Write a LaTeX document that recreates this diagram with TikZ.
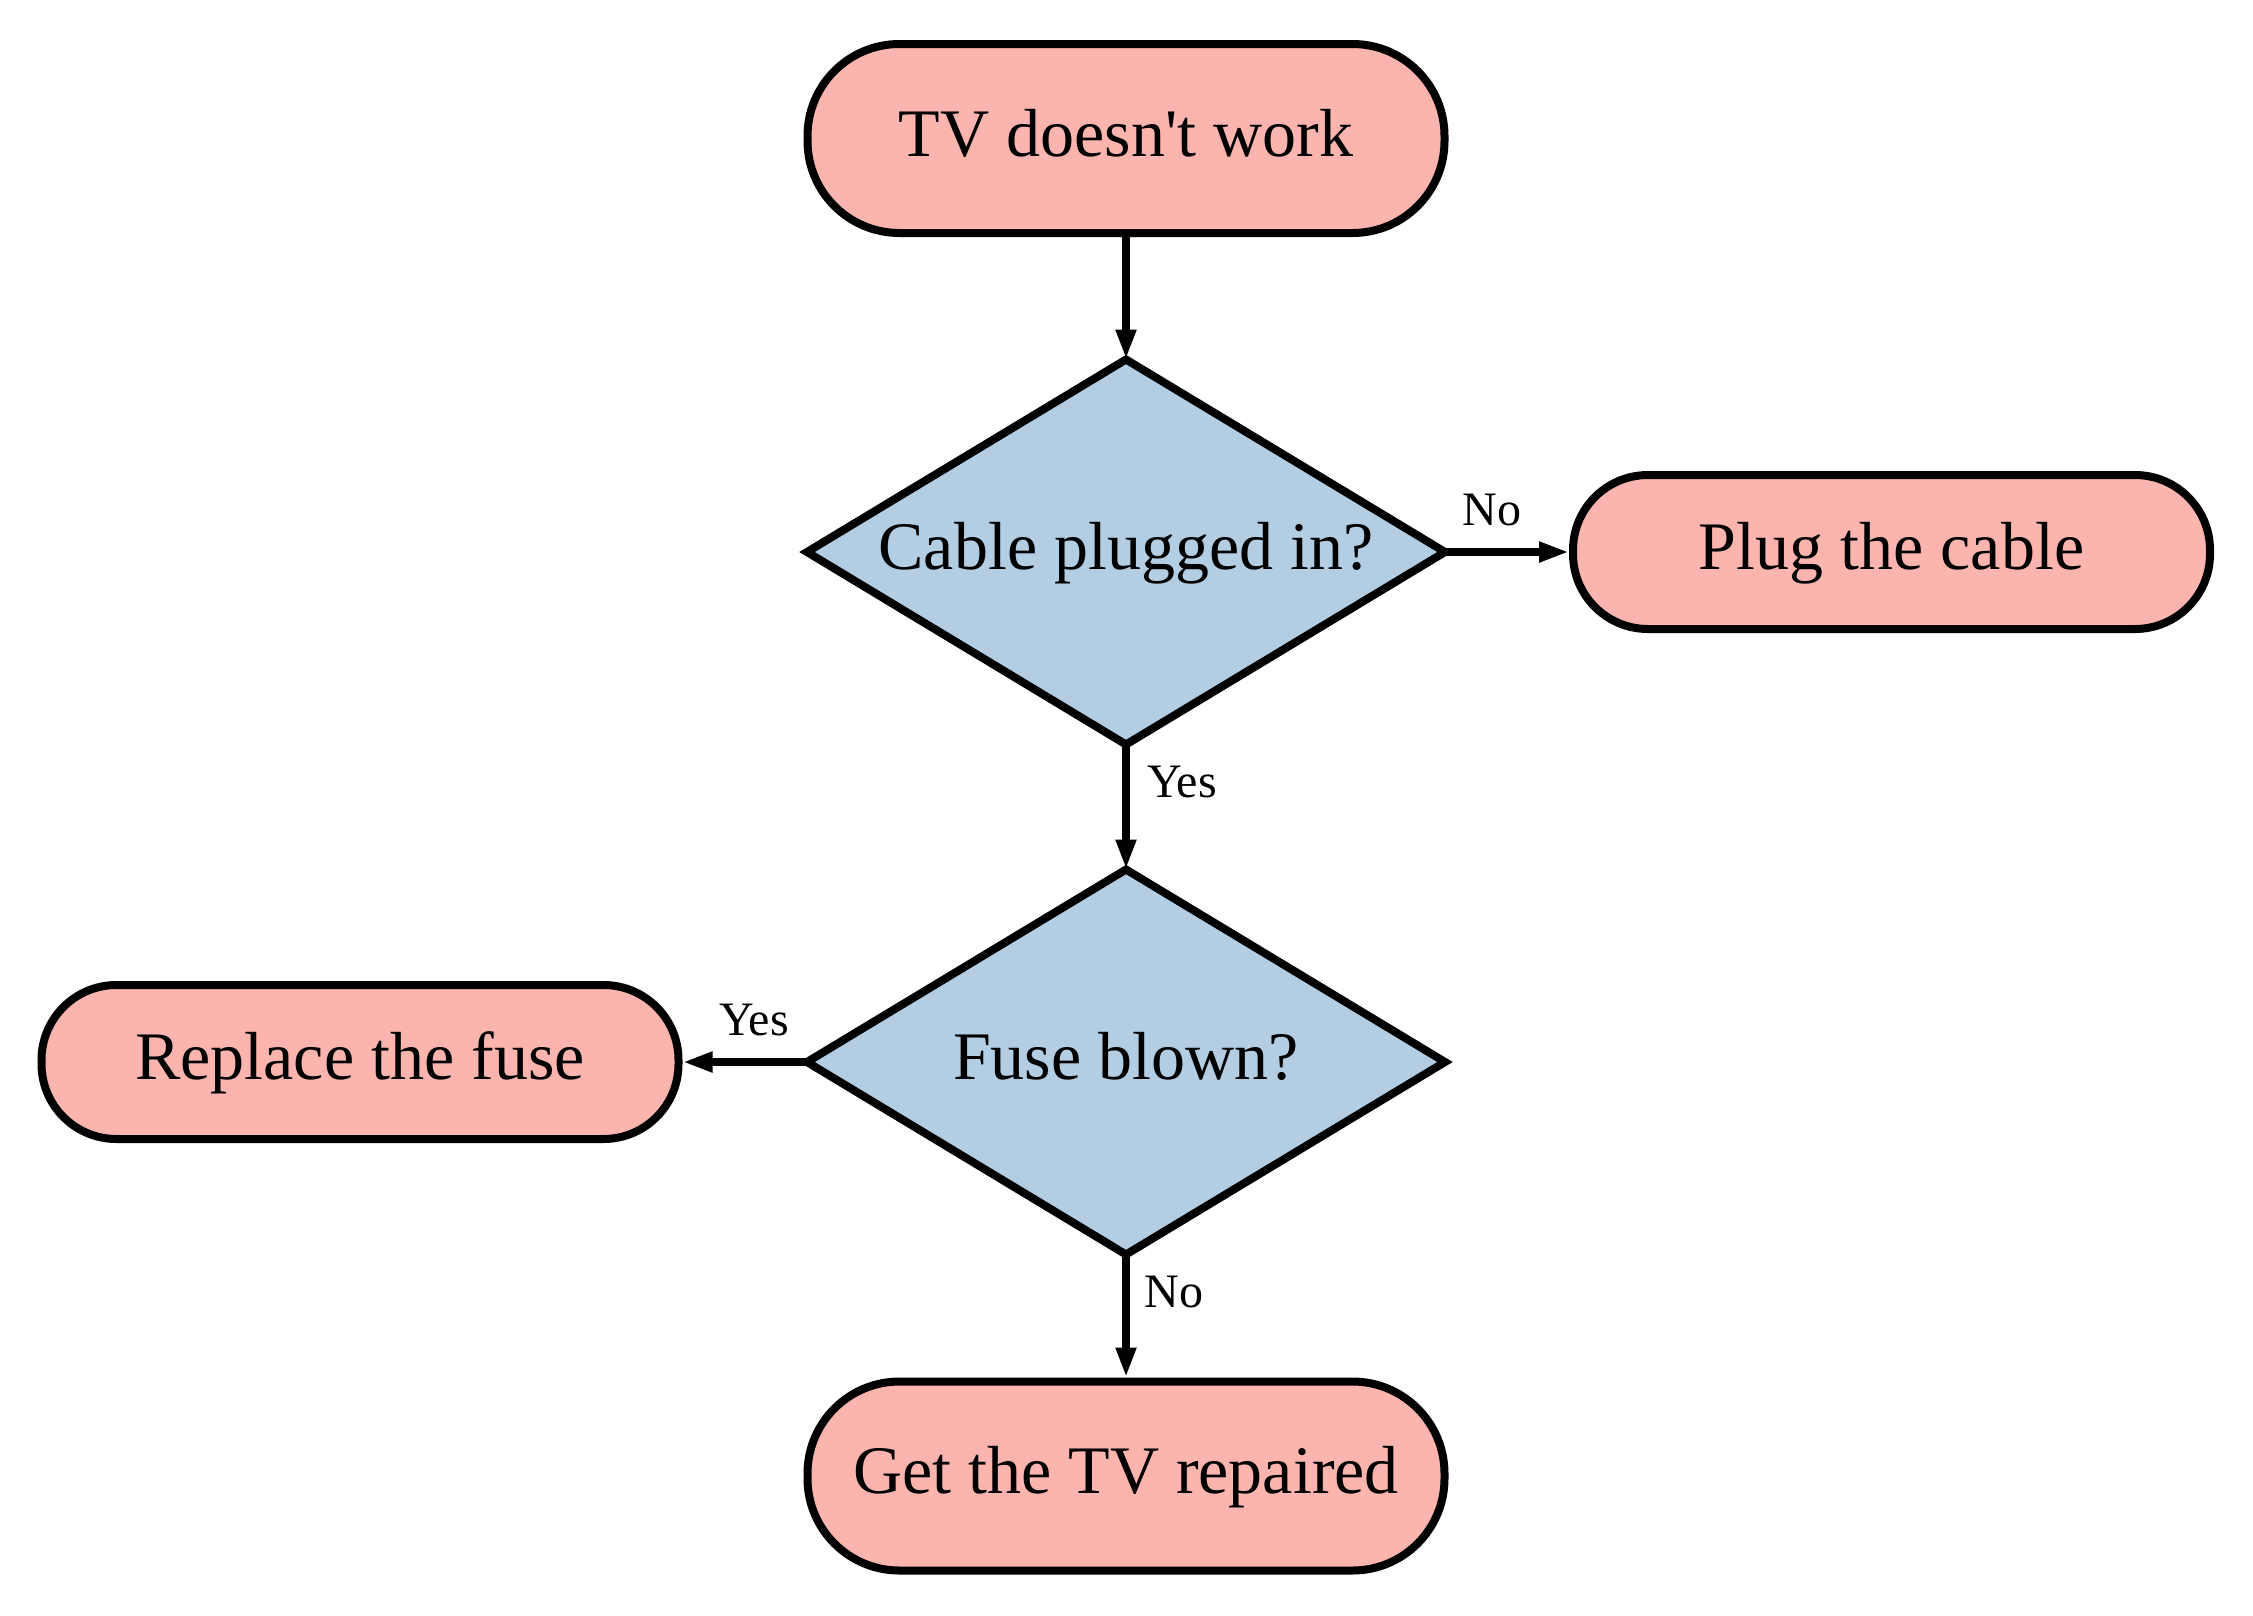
\documentclass[tikz,border=0pt]{standalone}
\usepackage{fontspec}
\setmainfont{Liberation Serif}
\usetikzlibrary{shapes.geometric,arrows.meta}
\definecolor{pinkc}{HTML}{FBB4AE}
\definecolor{bluec}{HTML}{B3CDE3}
\tikzset{
  term/.style={draw=black, line width=8pt, fill=pinkc, rectangle, inner sep=0pt,
    minimum width=637pt, text height=51pt, text depth=16pt,
    font=\fontsize{68}{80}\selectfont},
  termtall/.style={term, minimum height=189pt, rounded corners=92pt},
  termlow/.style={term, minimum height=154pt, rounded corners=75pt},
  decision/.style={draw=black, line width=8pt, fill=bluec, shape=diamond, shape aspect=1.66,
    inner sep=0pt, outer sep=0pt, minimum width=638pt, minimum height=385pt,
    text height=51pt, text depth=16pt, font=\fontsize{68}{80}\selectfont},
  lab/.style={anchor=base, inner sep=0pt, font=\fontsize{48}{56}\selectfont},
  arr/.style={line width=8pt, -{Triangle[length=30pt,width=19pt]}}
}
\begin{document}
\begin{tikzpicture}[x=1pt,y=1pt]
\useasboundingbox (0,0) rectangle (2253,-1615);
\node[termtall] (tv) at (1126,-138.5) {TV doesn\textquotesingle t work};
\node[decision] (d1) at (1126,-552) {Cable plugged in?};
\node[termlow] (plug) at (1891.5,-552) {Plug the cable};
\node[decision] (d2) at (1126,-1062) {Fuse blown?};
\node[termlow] (rep) at (360,-1062) {Replace the fuse};
\node[termtall] (fix) at (1126,-1476) {Get the TV repaired};
\draw[arr] (tv.south) -- (d1.north);
\draw[arr] (d1.east) -- (plug.west);
\draw[arr] (d1.south) -- (d2.north);
\draw[arr] (d2.west) -- (rep.east);
\draw[arr] (d2.south) -- (fix.north);
\node[lab] (l1) at (1492,-525) {No};
\node[lab] (l2) at (1182,-797) {Yes};
\node[lab] (l3) at (754,-1035) {Yes};
\node[lab] (l4) at (1174,-1307) {No};
\end{tikzpicture}
\end{document}
